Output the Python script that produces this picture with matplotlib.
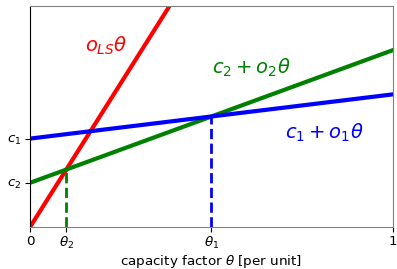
import numpy as np
import matplotlib.pyplot as plt

# coefficients
c1, o1 = 0.4, 0.2
c2, o2 = 0.2, 0.6
o_ls = 2.6

theta = np.array([0, 1])
theta1 = (c1 - c2) / (o2 - o1)
theta2 = c2 / (o_ls - o2)

xticks = [0, theta2, theta1, 1]
xtick_labels = ["0", r"$\theta_2$", r"$\theta_1$", "1"]
yticks = [c2, c1]
ytick_labels = [r"$c_2$", r"$c_1$"]

fig = plt.figure(figsize=(3.97, 2.69), dpi=100)
ax = fig.add_axes([0.0756, 0.156, 0.914, 0.822])

ax.plot(theta, o_ls * theta, color="red", lw=3)
ax.plot(theta, c2 + o2 * theta, color="green", lw=3)
ax.plot(theta, c1 + o1 * theta, color="blue", lw=3)

ax.plot([theta2, theta2], [0, c2 + o2 * theta2], "--", color="green", lw=2)
ax.plot([theta1, theta1], [0, c1 + o1 * theta1], "--", color="blue", lw=2)

ax.text(0.21, 0.82, r"$o_{LS}\theta$", color="red", fontsize=14,
        ha="center", va="center")
ax.text(0.61, 0.72, r"$c_2 + o_2\theta$", color="green", fontsize=14,
        ha="center", va="center")
ax.text(0.81, 0.425, r"$c_1 + o_1\theta$", color="blue", fontsize=14,
        ha="center", va="center")

ax.set_xlim(0, 1)
ax.set_ylim(0, 1)
ax.set_xticks(xticks)
ax.set_xticklabels(xtick_labels)
ax.set_yticks(yticks)
ax.set_yticklabels(ytick_labels)
ax.tick_params(labelsize=9.7, pad=2.5)
ax.set_xlabel(r"capacity factor $\theta$ [per unit]", fontsize=9.7, labelpad=1)

for side in ["top", "right", "bottom"]:
    ax.spines[side].set_color("grey")
ax.spines["left"].set_color("black")

fig.savefig("out.png", dpi=100)
